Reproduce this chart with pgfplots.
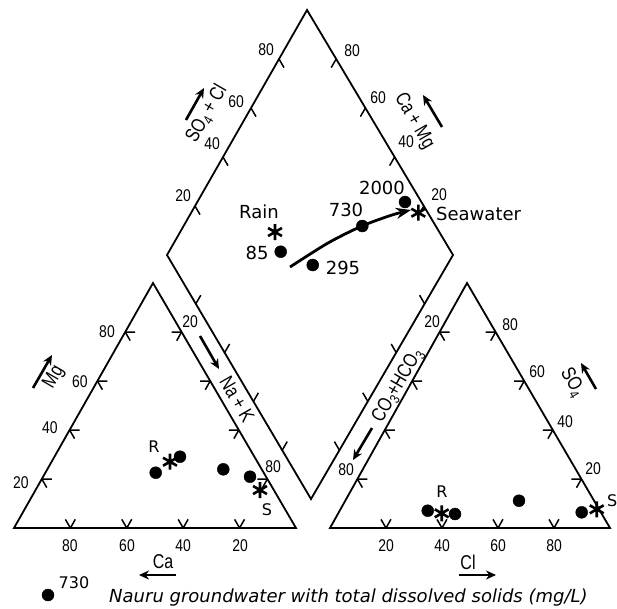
\documentclass[border=0pt]{standalone}
\usepackage{pgfplots}
\pgfplotsset{compat=1.18}
\usepackage{fontspec}
\usepackage{graphicx}
\setmainfont{DejaVu Sans}
\newfontfamily\lib{Liberation Sans}
\usetikzlibrary{arrows.meta,calc}
\newcommand{\cn}[1]{\scalebox{0.82}[1]{\lib\fontsize{17}{17}\selectfont #1}}
\newcommand{\lb}[1]{\scalebox{0.8}[1]{\lib\fontsize{20}{20}\selectfont #1}}
\newcommand{\sub}[1]{\raisebox{-0.4ex}{\fontsize{14}{14}\selectfont #1}}
\begin{document}
\begin{tikzpicture}
\useasboundingbox (0,0) rectangle (617pt,-608pt);
\begin{axis}[x=1pt,y=1pt,y dir=reverse,anchor=origin,
  xmin=0,xmax=617,ymin=0,ymax=608,hide axis,clip=false]
% outlines
\addplot[black,line width=1.8pt,line join=miter] coordinates {(14,528)(296,528)(153,283)(14,528)(296,528)};
\addplot[black,line width=1.8pt,line join=miter] coordinates {(330,528)(610,528)(467,283)(330,528)(610,528)};
\addplot[black,line width=1.8pt,line join=miter] coordinates {(307,10)(453,255)(311,499)(167,255)(307,10)(453,255)};
% trend arrow
\addplot[black,line width=2.8pt,smooth,-{Stealth[length=15pt,width=11pt]}] coordinates {(290,267)(328,243)(362,226)(392,215)(411,210)};
% groundwater samples
\addplot[only marks,mark=*,mark size=6pt,black] coordinates {
 (280.7,251.7)(312.7,265)(362.3,226)(405,202)
 (155.7,472.7)(180,456.7)(223.3,469.3)(250,476.7)
 (427.7,510.7)(455,514)(519,500.7)(581.7,512.3)
 (48,595)};
% rain and seawater
\addplot[only marks,mark=asterisk,mark size=8pt,black,mark options={line width=2.6pt}] coordinates {
 (275,232)(418.3,212.7)(170,461.7)(260,490)(441.7,513.3)(596.7,509.3)};
\end{axis}
\begin{scope}[x=1pt,y=-1pt]
\coordinate (A1) at (14,528); \coordinate (B1) at (296,528); \coordinate (C1) at (153,283);
\coordinate (A2) at (330,528); \coordinate (B2) at (610,528); \coordinate (C2) at (467,283);
\coordinate (T) at (307,10); \coordinate (L) at (167,255); \coordinate (R) at (453,255); \coordinate (Bt) at (311,499);
\tikzset{tk/.style={black,line width=1.5pt}}
\foreach \t in {0.2,0.4,0.6,0.8}{
 \draw[tk] ($(A1)!\t!(C1)$) -- ++(10,0) ($(A1)!\t!(C1)$) -- ++(5,8.6);
 \draw[tk] ($(C1)!\t!(B1)$) -- ++(-10,0) ($(C1)!\t!(B1)$) -- ++(-4.9,8.7);
 \draw[tk] ($(A1)!\t!(B1)$) -- ++(4.9,-8.7) ($(A1)!\t!(B1)$) -- ++(-5,-8.6);
 \draw[tk] ($(A2)!\t!(C2)$) -- ++(10,0) ($(A2)!\t!(C2)$) -- ++(5,8.6);
 \draw[tk] ($(B2)!\t!(C2)$) -- ++(-10,0) ($(B2)!\t!(C2)$) -- ++(-4.9,8.7);
 \draw[tk] ($(A2)!\t!(B2)$) -- ++(4.9,-8.7) ($(A2)!\t!(B2)$) -- ++(-5,-8.6);
 \draw[tk] ($(L)!\t!(T)$) -- ++(5,8.6);
 \draw[tk] ($(R)!\t!(T)$) -- ++(-5,8.6);
 \draw[tk] ($(L)!\t!(Bt)$) -- ++(5,-8.6);
 \draw[tk] ($(R)!\t!(Bt)$) -- ++(-5,-8.6);
}
% tick labels
\foreach \x/\y/\s in {183/196/20,212/144/40,236/102/60,266/50/80,
 439/195/20,406/142/40,378/98/60,352/51/80,
 21/483/20,50/428/40,80/382/60,107/332/80,
 190/322/20,273/467/80,
 70/546/80,127/546/60,183/546/40,240/546/20,
 432/322/20,346/470/80,
 510/325/80,537/372/60,565/422/40,593/469/20,
 386/546/20,442/546/40,498/546/60,554/546/80}
 \node[inner sep=0pt] at (\x,\y) {\cn{\s}};
% axis names
\node[inner sep=0pt] at (163,562) {\lb{Ca}};
\node[inner sep=0pt] at (468,562) {\lb{Cl}};
\node[inner sep=0pt,rotate=60] at (54,377) {\lb{Mg}};
\node[inner sep=0pt,rotate=-60] at (237,399) {\lb{Na + K}};
\node[inner sep=0pt,rotate=60] at (207,114) {\lb{SO\sub{4} + Cl}};
\node[inner sep=0pt,rotate=-60] at (414,121) {\lb{Ca + Mg}};
\node[inner sep=0pt,rotate=60] at (398,386) {\lb{CO\sub{3}+HCO\sub{3}}};
\node[inner sep=0pt,rotate=-60] at (572,383) {\lb{SO\sub{4}}};
\tikzset{ar/.style={black,line width=2.6pt,-{Stealth[length=10pt,width=9pt]}}}
\draw[ar] (176,575) -- (139,575);
\draw[ar] (459,575) -- (496,575);
\draw[ar] (33,388) -- (52,355);
\draw[ar] (200,336) -- (219,369);
\draw[ar] (186,120) -- (204,88);
\draw[ar] (442,127) -- (423,95);
\draw[ar] (372,428) -- (353,460);
\draw[ar] (596,389) -- (581,363);
% point labels
\tikzset{pl/.style={inner sep=0pt,font=\fontsize{18}{18}\selectfont}}
\node[pl] at (259,212) {Rain};
\node[pl] at (257,253) {85};
\node[pl] at (343,268) {295};
\node[pl] at (346,210) {730};
\node[pl] at (382,188) {2000};
\node[pl,anchor=west] at (436,214) {Seawater};
\node[pl,font=\fontsize{16}{16}\selectfont] at (154,447) {R};
\node[pl,font=\fontsize{16}{16}\selectfont] at (267,510) {S};
\node[pl,font=\fontsize{16}{16}\selectfont] at (442,492) {R};
\node[pl,font=\fontsize{16}{16}\selectfont,anchor=west] at (607,501) {S};
\node[pl,font=\fontsize{16}{16}\selectfont] at (74,583) {730};
\node[pl,anchor=west,font=\fontsize{18}{18}\itshape] at (109,598) {Nauru groundwater with total dissolved solids (mg/L)};
\end{scope}
\end{tikzpicture}
\end{document}
